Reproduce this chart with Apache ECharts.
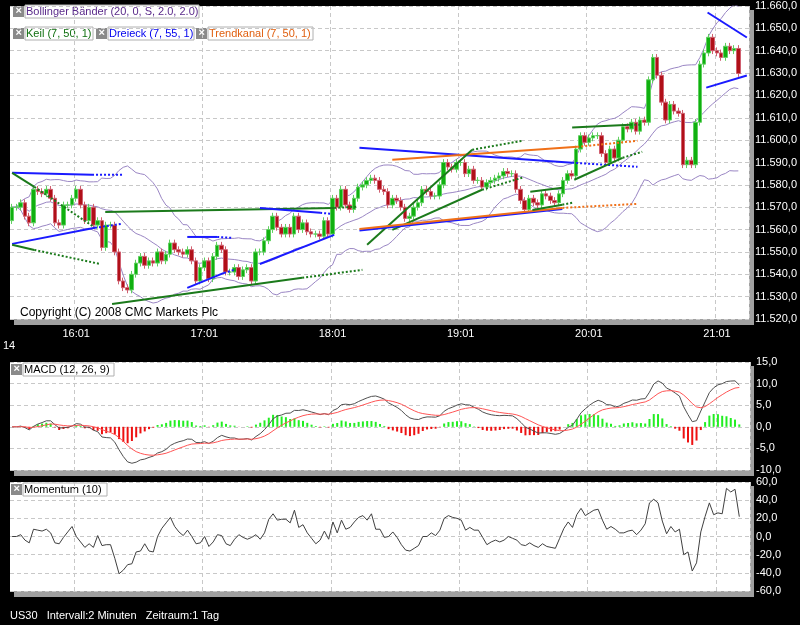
<!DOCTYPE html>
<html>
<head>
<meta charset="utf-8">
<script src="https://cdn.jsdelivr.net/npm/echarts@6/dist/echarts.min.js"></script>
<style>html,body{margin:0;background:#000;}#chart{width:800px;height:625px;}</style>
</head>
<body>
<div id="chart"></div>
<script>
// US30, 2-minute closes (15:31 .. 21:11)
const closes = [
  11570, 11570, 11572, 11566, 11563, 11578, 11577, 11576, 11578, 11574,
  11563, 11562, 11571, 11571, 11574, 11578, 11571, 11564, 11570, 11562,
  11564, 11552, 11562, 11562, 11550, 11537, 11534, 11533, 11540, 11545,
  11548, 11544, 11546, 11545, 11550, 11546, 11549, 11554, 11551, 11550,
  11549, 11551, 11546, 11537, 11543, 11546, 11538, 11548, 11553, 11551,
  11541, 11541, 11543, 11539, 11542, 11543, 11537, 11550, 11550, 11555,
  11560, 11566, 11561, 11558, 11561, 11558, 11566, 11560, 11563, 11559,
  11558, 11558, 11557, 11564, 11558, 11574, 11570, 11578, 11571, 11569,
  11574, 11579, 11580, 11582, 11583, 11582, 11578, 11577, 11571, 11574,
  11573, 11570, 11565, 11566, 11570, 11572, 11578, 11577, 11575, 11575,
  11580, 11590, 11588, 11587, 11590, 11590, 11585, 11587, 11582, 11582,
  11579, 11581, 11582, 11583, 11584, 11586, 11585, 11585, 11578, 11573,
  11569, 11574, 11572, 11571, 11576, 11575, 11573, 11572, 11576, 11582,
  11585, 11584, 11596, 11602, 11599, 11601, 11602, 11602, 11594, 11590,
  11596, 11592, 11600, 11606, 11605, 11608, 11604, 11609, 11608, 11627,
  11637, 11629, 11617, 11609, 11616, 11613, 11612, 11589, 11591, 11589,
  11608, 11634, 11639, 11646, 11640, 11639, 11637, 11642, 11640, 11641,
  11629.8
];
const startMinute = 15 * 60 + 31;
const extraSlots = 2;
const priceTicks = {min: 11520, max: 11660, step: 10};
const macdTicks = {min: -10, max: 15, step: 5};
const momTicks = {min: -60, max: 60, step: 20};
const lastPrice = 11629.8;
// drawn tool lines: [index0, price0, index1, price1, tool, dotted]
const toolLines = [
  [0,11585.4,18.7,11584.5,'b',0],[18.7,11584.5,25.8,11584.5,'b',1],
  [0,11585.4,5.2,11579.1,'g',0],[5.2,11579.1,19.4,11560.8,'g',1],
  [0,11553.6,19.4,11560.8,'b',0],[19.4,11560.8,25.8,11562.6,'b',1],
  [0,11553.2,5.2,11550.9,'g',0],[5.2,11550.9,20.6,11544.6,'g',1],
  [21.8,11567.9,75.4,11569.7,'g',0],[75.4,11569.7,80.8,11570.2,'g',1],
  [41,11556.7,48,11556.7,'b',0],[48,11556.7,51.5,11556.3,'b',1],
  [41,11533.9,49.6,11540.6,'b',0],[49.6,11540.6,52,11542,'b',1],
  [23.4,11526.7,67.9,11538.4,'g',0],[67.9,11538.4,82,11542,'g',1],
  [58,11569.7,72.1,11567.5,'b',0],[72.1,11567.5,74.9,11567,'b',1],
  [58,11544.6,75.4,11557.6,'b',0],
  [81.3,11596.6,131.1,11589.9,'b',0],[131.1,11589.9,146.4,11588.1,'b',1],
  [89,11591.2,132.3,11597,'o',0],[132.3,11597,146.4,11599.7,'o',1],
  [83.1,11553.2,107.7,11595.7,'g',0],[107.7,11595.7,119.4,11599.7,'g',1],
  [89,11559.9,110,11577.8,'g',0],[110,11577.8,119.4,11583.2,'g',1],
  [81.3,11559.6,128.8,11569.2,'b',0],
  [81.3,11560.3,128.8,11569.7,'o',0],[128.8,11569.7,146.4,11571.5,'o',1],
  [121.3,11576.9,128.8,11578.7,'g',0],
  [121.8,11568.8,128.8,11571.1,'g',0],[128.8,11571.1,131.1,11572,'g',1],
  [131.1,11605.6,144.7,11606.9,'g',0],[144.7,11606.9,147.5,11606.9,'g',1],
  [131.6,11582.3,142.9,11592.1,'g',0],[142.9,11592.1,147.5,11594.8,'g',1],
  [162.8,11657.1,172,11645.9,'b',0],
  [162.5,11623.5,172,11628.9,'b',0]
];
const toolColors = {g: '#1b7a1b', b: '#1a1aff', o: '#f07018'};

const nSlots = closes.length + extraSlots;
const times = [];
for (let i = 0; i < nSlots; i++) {
  let m = startMinute + 2 * i;
  times.push(Math.floor(m / 60) + ':' + String(m % 60).padStart(2, '0'));
}
const isHour = (i) => (startMinute + 2 * i) % 60 === 1;

// candles: open = previous close
const candles = closes.map((c, i) => {
  let o = i ? closes[i - 1] : c - 6;
  return [o, c, Math.min(o, c) - 1.5, Math.max(o, c) + 1.5];
});

// Bollinger (20, 2.0)
const bbMid = [], bbUp = [], bbLo = [];
closes.forEach((c, i) => {
  let w = closes.slice(Math.max(0, i - 19), i + 1);
  let m = w.reduce((a, b) => a + b, 0) / w.length;
  let sd = Math.sqrt(w.reduce((a, b) => a + (b - m) * (b - m), 0) / w.length);
  bbMid.push(m); bbUp.push(m + 2 * sd); bbLo.push(m - 2 * sd);
});

// MACD (12, 26, 9)
function ema(arr, n) {
  let k = 2 / (n + 1), out = [], prev = arr[0];
  arr.forEach(v => { prev = prev + k * (v - prev); out.push(prev); });
  return out;
}
const e12 = ema(closes, 12), e26 = ema(closes, 26);
const macd = e12.map((v, i) => v - e26[i]);
const signal = ema(macd, 9);
const hist = macd.map((v, i) => v - signal[i]);

// Momentum (10)
const mom = closes.map((c, i) => c - closes[Math.max(0, i - 10)]);

const de = (v, d = 1) => v.toFixed(d).replace('.', ',');
const priceFmt = v => {
  let s = v.toFixed(1).split('.');
  return s[0].replace(/\B(?=(\d{3})+(?!\d))/g, '.') + ',' + s[1];
};

const grids = [
  {left: 10, width: 740, top: 6, height: 313},
  {left: 10, width: 740, top: 362, height: 108},
  {left: 10, width: 740, top: 482, height: 109}
];
const catAxis = (gi, labels) => ({
  type: 'category', gridIndex: gi, data: times, boundaryGap: true,
  axisLine: {show: false}, axisTick: {show: false},
  axisLabel: {show: labels, interval: (i) => isHour(i), color: '#fff', fontSize: 11, fontFamily: 'Liberation Sans', margin: 9},
  splitLine: {show: true, interval: (i) => isHour(i), lineStyle: {color: '#c8c8c8', type: [4, 3]}}
});
const valAxis = (gi, t, fmt) => ({
  type: 'value', gridIndex: gi, position: 'right', min: t.min, max: t.max, interval: t.step,
  axisLine: {show: false}, axisTick: {show: false},
  axisLabel: {color: '#fff', fontSize: 11, fontFamily: 'Liberation Sans', margin: 6, formatter: fmt},
  splitLine: {lineStyle: {color: '#c8c8c8', type: [4, 3]}}
});

const series = [
  {type: 'candlestick', xAxisIndex: 0, yAxisIndex: 0, data: candles, barWidth: 4,
    itemStyle: {color: '#10b010', color0: '#b01018', borderColor: '#60d060', borderColor0: '#d06070', borderWidth: 1},
    markLine: {silent: true, symbol: 'none', data: [{yAxis: lastPrice}], lineStyle: {opacity: 0},
      label: {position: 'end', formatter: () => priceFmt(lastPrice), color: '#c00000', backgroundColor: '#fff',
        borderColor: '#c00000', borderWidth: 1, padding: [2, 3], fontSize: 11, fontFamily: 'Liberation Sans', distance: 4}}},
  ...[bbUp, bbMid, bbLo].map(d => ({type: 'line', xAxisIndex: 0, yAxisIndex: 0, data: d, symbol: 'none',
    lineStyle: {color: '#9a86c4', width: 1}, z: 1})),
  ...toolLines.map(s => ({type: 'line', xAxisIndex: 3, yAxisIndex: 0, symbol: 'none', silent: true,
    data: [[s[0], s[1]], [s[2], s[3]]], lineStyle: {color: toolColors[s[4]], width: 2, type: s[5] ? [2, 2] : 'solid'}, z: 3})),
  {type: 'bar', xAxisIndex: 1, yAxisIndex: 1, barWidth: 2,
    data: hist.map(v => ({value: v, itemStyle: {color: v >= 0 ? '#22ee22' : '#ee1111'}}))},
  {type: 'line', xAxisIndex: 1, yAxisIndex: 1, data: macd, symbol: 'none', lineStyle: {color: '#505050', width: 1}},
  {type: 'line', xAxisIndex: 1, yAxisIndex: 1, data: signal, symbol: 'none', lineStyle: {color: '#ff5555', width: 1}},
  {type: 'line', xAxisIndex: 2, yAxisIndex: 2, data: mom, symbol: 'none', lineStyle: {color: '#404040', width: 1}}
];

function legendBox(x, y, w, text, color) {
  return [
    {type: 'rect', shape: {x: x, y: y, width: 11, height: 11}, style: {fill: '#8a8a8a'}},
    {type: 'text', x: x + 2.5, y: y - 1, style: {text: '×', fill: '#fff', font: 'bold 11px Liberation Sans'}},
    {type: 'rect', shape: {x: x + 12, y: y - 1, width: w, height: 13}, style: {fill: '#fff', stroke: '#b0b0b0', lineWidth: 1}},
    {type: 'text', x: x + 13, y: y, style: {text: text, fill: color, font: '11px Liberation Sans'}}
  ];
}
const shadows = grids.map(g => ({type: 'rect', z: -1, shape: {x: g.left + 4, y: g.top + 4, width: g.width, height: g.height + 2}, style: {fill: '#a0a0a0'}}));

const option = {
  backgroundColor: '#000',
  animation: false,
  grid: grids.map(g => Object.assign({show: true, backgroundColor: '#fff', borderWidth: 0}, g)),
  xAxis: [catAxis(0, true), catAxis(1, false), catAxis(2, false),
    {type: 'value', gridIndex: 0, min: -0.5, max: nSlots - 0.5, show: false}],
  yAxis: [valAxis(0, priceTicks, priceFmt), valAxis(1, macdTicks, v => de(v)), valAxis(2, momTicks, v => de(v))],
  series: series,
  graphic: [
    ...shadows,
    ...legendBox(13, 6, 174, 'Bollinger Bänder (20, 0, S, 2.0, 2.0)', '#5a2a8a'),
    ...legendBox(13, 28, 68, 'Keil (7, 50, 1)', '#107010'),
    ...legendBox(96, 28, 86, 'Dreieck (7, 55, 1)', '#0000ee'),
    ...legendBox(196, 28, 105, 'Trendkanal (7, 50, 1)', '#e06010'),
    ...legendBox(11, 364, 91, 'MACD (12, 26, 9)', '#000'),
    ...legendBox(11, 484, 84, 'Momentum (10)', '#000'),
    {type: 'text', x: 20, y: 307, z: 10, style: {text: 'Copyright (C) 2008 CMC Markets Plc', fill: '#000', font: '12px Liberation Sans'}},
    {type: 'text', x: 3, y: 340, style: {text: '14', fill: '#fff', font: '11px Liberation Sans'}},
    {type: 'text', x: 10, y: 610, style: {text: 'US30   Intervall:2 Minuten   Zeitraum:1 Tag', fill: '#fff', font: '11px Liberation Sans Narrow, Liberation Sans'}}
  ]
};
const chart = echarts.init(document.getElementById('chart'));
chart.setOption(option);
</script>
</body>
</html>
